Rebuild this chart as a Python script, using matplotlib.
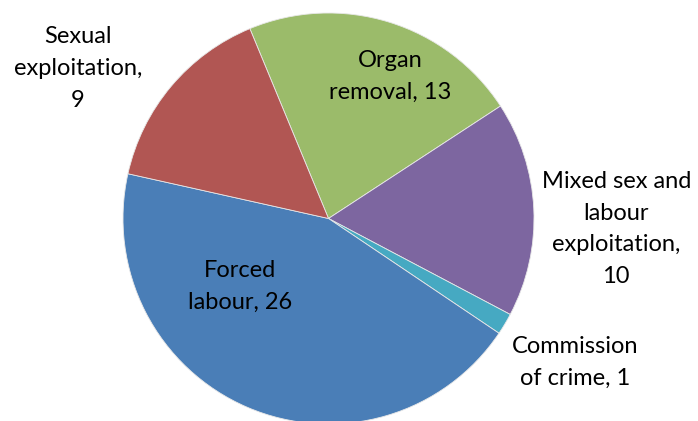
import matplotlib.pyplot as plt

labels = ["Organ\nremoval, 13", "Mixed sex and\nlabour\nexploitation,\n10",
          "Commission\nof crime, 1", "Forced\nlabour, 26", "Sexual\nexploitation,\n9"]
values = [13, 10, 1, 26, 9]
colors = ["#9BBB6A", "#7D66A0", "#46A9C2", "#4A7EB7", "#B15653"]

# label centres, in units of the pie radius
label_pos = [(0.30, 0.69), (1.40, -0.05), (1.20, -0.70), (-0.43, -0.33), (-1.22, 0.73)]

fig = plt.figure(figsize=(6.98, 4.21), dpi=100)
ax = fig.add_axes([0, 0, 1, 1])

ax.pie(values, colors=colors, startangle=112.5, counterclock=False,
       wedgeprops=dict(edgecolor="#e8e8e8", linewidth=0.6))

for text, (x, y) in zip(labels, label_pos):
    ax.text(x, y, text, ha="center", va="center", multialignment="center",
            fontsize=17, family="Lato", linespacing=1.62, color="black")

r = 205.5
ax.set_aspect("equal")
ax.set_xlim(-328.5 / r, (698 - 328.5) / r)
ax.set_ylim(-(421 - 218.5) / r, 218.5 / r)
ax.axis("off")

fig.savefig("out.png", dpi=100)
